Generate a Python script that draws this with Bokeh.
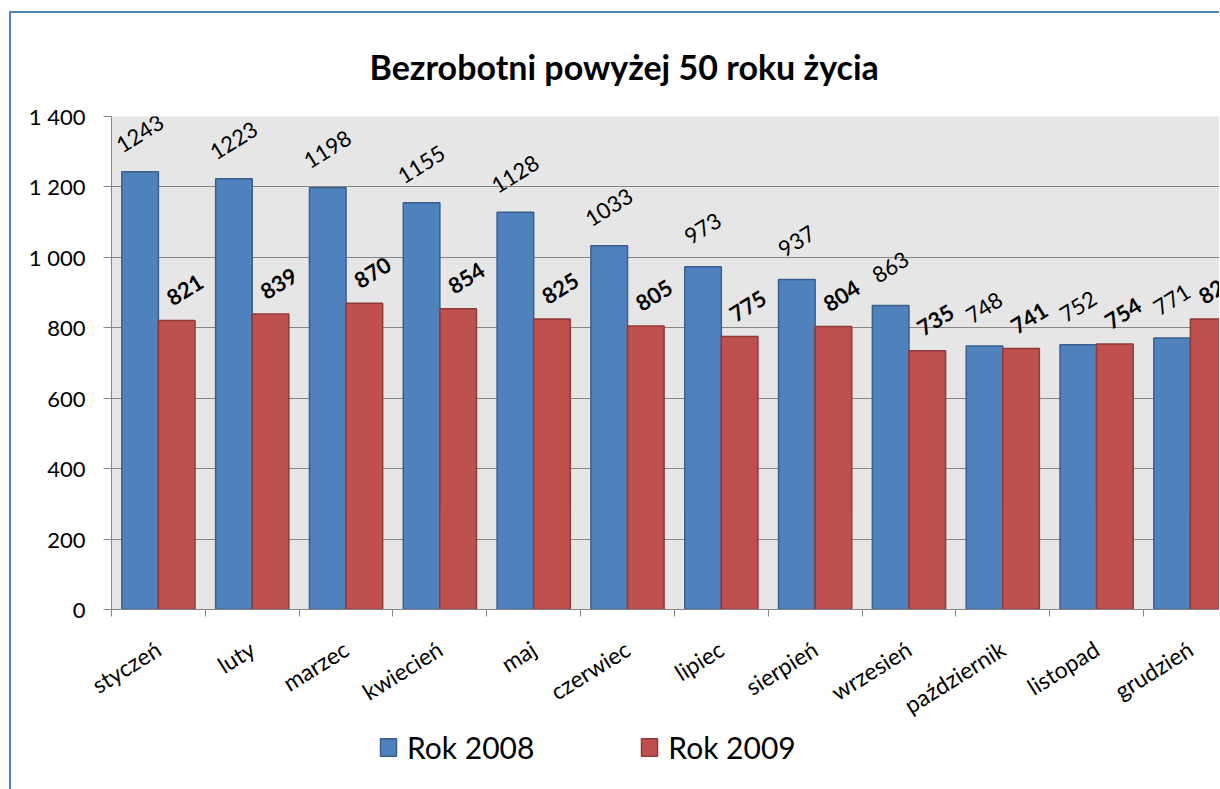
import math
from bokeh.plotting import figure
from bokeh.layouts import column
from bokeh.models import (ColumnDataSource, FixedTicker, Range1d, LabelSet, Legend,
                          LegendItem)
from bokeh.core.properties import value
from bokeh.embed import file_html
from bokeh.resources import INLINE

months = ["styczeń", "luty", "marzec", "kwiecień", "maj", "czerwiec", "lipiec",
          "sierpień", "wrzesień", "październik", "listopad", "grudzień"]
rok2008 = [1243, 1223, 1198, 1155, 1128, 1033, 973, 937, 863, 748, 752, 771]
rok2009 = [821, 839, 870, 854, 825, 805, 775, 804, 735, 741, 754, 825]
y_ticks = [0, 200, 400, 600, 800, 1000, 1200, 1400]
y_tick_labels = ["0", "200", "400", "600", "800", "1 000", "1 200", "1 400"]
series_names = ["Rok 2008", "Rok 2009"]

FONT = "Lato"
BLUE, BLUE_LINE = "#4f81bd", "#3a5f8d"
RED, RED_LINE = "#c0504d", "#8d3a38"
GRID = "#868686"

n = len(months)
bar_w = 0.39
centers = [i + 0.5 for i in range(n)]
src08 = ColumnDataSource(dict(x=[c - bar_w / 2 for c in centers], y=rok2008,
                              t=[str(v) for v in rok2008]))
src09 = ColumnDataSource(dict(x=[c + bar_w / 2 for c in centers], y=rok2009,
                              t=[str(v) for v in rok2009]))

p = figure(frame_width=1108, frame_height=493, output_backend="svg",
           toolbar_location=None,
           x_range=Range1d(0, 11.81), y_range=Range1d(0, 1400),
           min_border_left=100, min_border_right=0, min_border_top=102,
           min_border_bottom=120)
p.background_fill_color = "#e6e6e6"
p.border_fill_color = "white"
p.outline_line_color = None

r08 = p.vbar(x="x", top="y", width=bar_w, source=src08, fill_color=BLUE,
             line_color=BLUE_LINE, line_width=1.5)
r09 = p.vbar(x="x", top="y", width=bar_w, source=src09, fill_color=RED,
             line_color=RED_LINE, line_width=1.5)

ang = math.radians(32)
lab08 = LabelSet(x="x", y="y", text="t", source=src08, angle=ang,
                 text_align="center", text_baseline="middle", y_offset=38,
                 text_font=value(FONT), text_font_size=value("22px"),
                 text_color="black")
lab09 = LabelSet(x="x", y="y", text="t", source=src09, angle=ang,
                 text_align="center", text_baseline="middle", y_offset=31, x_offset=8,
                 text_font=value(FONT), text_font_size=value("22px"),
                 text_font_style="bold", text_color="black")
p.add_layout(lab08)
p.add_layout(lab09)

# y axis
p.yaxis.ticker = FixedTicker(ticks=y_ticks, minor_ticks=[])
p.yaxis.major_label_overrides = {t: l for t, l in zip(y_ticks, y_tick_labels)}
p.yaxis.major_label_text_font = FONT
p.yaxis.major_label_text_font_size = "22px"
p.yaxis.major_label_text_color = "black"
p.yaxis.major_tick_out = 8
p.yaxis.major_tick_in = 0
p.yaxis.major_label_standoff = 18
p.yaxis.axis_line_color = GRID
p.yaxis.major_tick_line_color = GRID
p.ygrid.grid_line_color = GRID
p.xgrid.grid_line_color = None

# x axis
p.xaxis.ticker = FixedTicker(ticks=centers, minor_ticks=list(range(n + 1)))
p.xaxis.major_label_overrides = {c: m for c, m in zip(centers, months)}
p.xaxis.major_label_orientation = ang
p.xaxis.major_label_text_font = FONT
p.xaxis.major_label_text_font_size = "23px"
p.xaxis.major_label_text_color = "black"
p.xaxis.major_tick_out = 0
p.xaxis.major_tick_in = 0
p.xaxis.minor_tick_out = 7
p.xaxis.minor_tick_in = 0
p.xaxis.major_label_standoff = 30
p.xaxis.axis_line_color = GRID
p.xaxis.minor_tick_line_color = GRID

# title
p.title.text = "Bezrobotni powyżej 50 roku życia"
p.title.text_font = FONT
p.title.text_font_size = "34px"
p.title.text_font_style = "bold"
p.title.text_color = "black"
p.title.align = "left"
p.title.offset = 258
p.title.standoff = 60

# legend strip below the chart (its renderers are hidden; only the key shows)
p2 = figure(width=1208, height=60, output_backend="svg", toolbar_location=None,
            x_axis_location=None, y_axis_location=None,
            x_range=Range1d(0, 11.81), y_range=Range1d(0, 1400),
            min_border_left=0, min_border_right=0, min_border_top=0,
            min_border_bottom=0)
p2.outline_line_color = None
p2.background_fill_color = "white"
p2.border_fill_color = "white"
p2.xgrid.visible = False
p2.ygrid.visible = False
k08 = p2.vbar(x="x", top="y", width=bar_w, source=src08,
              fill_color=BLUE, line_color=BLUE_LINE, line_width=1.5, visible=False)
k09 = p2.vbar(x="x", top="y", width=bar_w, source=src09,
              fill_color=RED, line_color=RED_LINE, line_width=1.5, visible=False)
legend = Legend(items=[LegendItem(label=series_names[0], renderers=[k08]),
                       LegendItem(label=series_names[1], renderers=[k09])],
                orientation="horizontal", location=(267, 28),
                glyph_width=20, glyph_height=22, label_standoff=9, spacing=105,
                label_text_font=FONT, label_text_font_size="30px",
                label_text_color="black", inactive_fill_alpha=0,
                border_line_color=None, background_fill_alpha=0, margin=0, padding=0)
p2.add_layout(legend, "center")

layout = column(p, p2, spacing=0,
                styles={"border-left": "2px solid #4f81bd",
                        "border-top": "2px solid #4f81bd",
                        "margin-left": "9px", "margin-top": "11px"})

open("out.html", "w").write(file_html(layout, INLINE))
